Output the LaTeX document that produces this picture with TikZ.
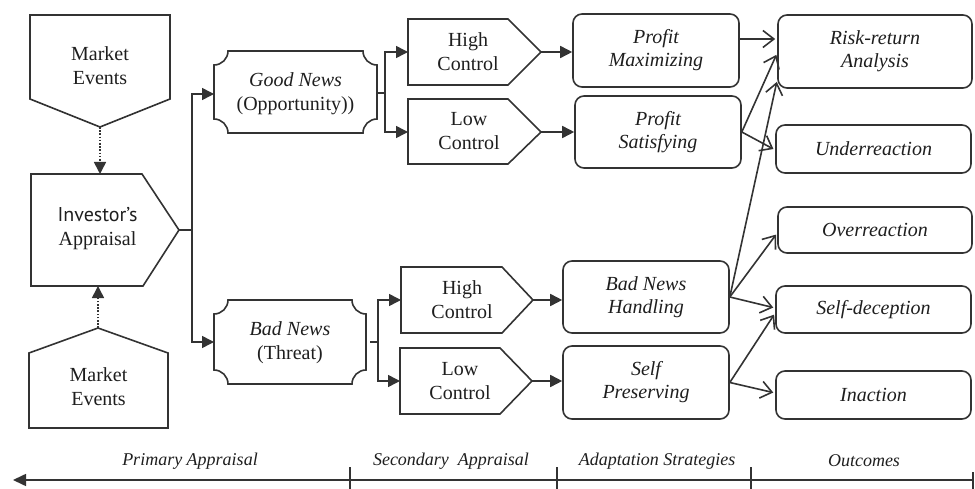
\documentclass[tikz,border=0pt]{standalone}
\usepackage{fontspec}
\setmainfont{Liberation Serif}
\newfontfamily\ptsans{PT Sans}
\usetikzlibrary{arrows.meta}
\definecolor{ink}{HTML}{333333}
\definecolor{tink}{HTML}{1E1E1E}
\begin{document}
\begin{tikzpicture}[x=1pt,y=-1pt,
  ln/.style={draw=ink, line width=1.6pt},
  txt/.style={text=tink, font=\fontsize{20}{24}\selectfont, align=center, inner sep=0pt},
  rbox/.style={ln, rounded corners=9pt, text=tink, font=\fontsize{20}{23}\selectfont\itshape, align=center, inner sep=0pt},
  fa/.style={ln, -{Triangle[length=12pt,width=12pt]}},
  ba/.style={ln, -{Straight Barb[length=11pt,width=17pt]}, shorten >=2pt},
  dots/.style={fa, dash pattern=on 1.6pt off 1.6pt},
  lab/.style={text=tink, font=\fontsize{18}{20}\selectfont\itshape, inner sep=0pt}
]
\useasboundingbox (0,0) rectangle (975,489);

% ---------- left column ----------
\node[txt] (me1) at (100,66) {Market\\Events};
\draw[ln] (30,15) -- (170,15) -- (170,99) -- (100,127) coordinate (me1tip) -- (30,99) -- cycle;

\node[txt] (inv) at (97.5,228.5) {{\ptsans Investor’s}\\Appraisal};
\draw[ln] (31,174) -- (142,174) -- (179,230) coordinate (invtip) -- (143,286) -- (31,286) -- cycle;
\coordinate (invtop) at (100,174);
\coordinate (invbot) at (98,286);

\node[txt] (me2) at (98.5,386.5) {Market\\Events};
\draw[ln] (29,353) -- (98,328) coordinate (me2tip) -- (168,353) -- (168,428) -- (29,428) -- cycle;

\draw[dots] (me1tip) -- (invtop);
\draw[dots] (me2tip) -- (invbot);

% ---------- primary appraisal ----------
\node[txt] (gn) at (295.5,93.5) {\textit{Good News}\\(Opportunity))};
\draw[ln] (228,51) -- (363,51) .. controls (363,58.7) and (369.3,65) .. (377,65)
  -- (377,119) .. controls (369.3,119) and (363,125.3) .. (363,133)
  -- (228,133) .. controls (228,125.3) and (221.7,119) .. (214,119)
  -- (214,65) .. controls (221.7,65) and (228,58.7) .. (228,51) -- cycle;
\coordinate (gnw) at (214,94);
\coordinate (gne) at (377,93);

\node[txt] (bn) at (290,342.5) {\textit{Bad News}\\(Threat)};
\draw[ln] (228,300) -- (352,300) .. controls (352,307.7) and (358.3,314) .. (366,314)
  -- (366,370) .. controls (358.3,370) and (352,376.3) .. (352,384)
  -- (228,384) .. controls (228,376.3) and (221.7,370) .. (214,370)
  -- (214,314) .. controls (221.7,314) and (228,307.7) .. (228,300) -- cycle;
\coordinate (bnw) at (214,342);
\coordinate (bne) at (370,342);

\coordinate (j1) at (192,230);
\draw[ln] (invtip) -- (j1);
\draw[fa] (j1) |- (gnw);
\draw[fa] (j1) |- (bnw);

% ---------- secondary appraisal ----------
\node[txt] (hc1) at (468,51.5) {High\\Control};
\draw[ln] (408,19) -- (508,19) -- (541,52) coordinate (hc1tip) -- (508,85) -- (408,85) -- cycle;
\coordinate (hc1w) at (408,52);
\node[txt] (lc1) at (469,131.5) {Low\\Control};
\draw[ln] (408,99) -- (508,99) -- (541,132) coordinate (lc1tip) -- (508,164) -- (408,164) -- cycle;
\coordinate (lc1w) at (408,132);

\node[txt] (hc2) at (462,300) {High\\Control};
\draw[ln] (401,267) -- (502,267) -- (533,300) coordinate (hc2tip) -- (502,333) -- (401,333) -- cycle;
\coordinate (hc2w) at (401,300);
\node[txt] (lc2) at (460,381.5) {Low\\Control};
\draw[ln] (400,348) -- (500,348) -- (532,381) coordinate (lc2tip) -- (500,414) -- (400,414) -- cycle;
\coordinate (lc2w) at (400,381);

\coordinate (j2) at (385,93);
\draw[ln] (gne) -- (j2);
\draw[fa] (j2) |- (hc1w);
\draw[fa] (j2) |- (lc1w);

\coordinate (j3) at (378,342);
\draw[ln] (bne) -- (j3);
\draw[fa] (j3) |- (hc2w);
\draw[fa] (j3) |- (lc2w);

% ---------- adaptation strategies ----------
\node[rbox, minimum width=166pt, minimum height=73pt] (pm) at (656,50.5) {Profit\\Maximizing};
\node[rbox, minimum width=166pt, minimum height=72pt] (ps) at (658,132) {Profit\\Satisfying};
\node[rbox, minimum width=166pt, minimum height=72pt] (bnh) at (646,297) {Bad News\\Handling};
\node[rbox, minimum width=166pt, minimum height=73pt] (sp) at (646,382.5) {Self\\Preserving};

\draw[fa] (hc1tip) -- (pm.west |- hc1tip);
\draw[fa] (lc1tip) -- (ps.west |- lc1tip);
\draw[fa] (hc2tip) -- (bnh.west |- hc2tip);
\draw[fa] (lc2tip) -- (sp.west |- lc2tip);

% ---------- outcomes ----------
\node[rbox, minimum width=194pt, minimum height=73pt] (rr) at (875,51.5) {Risk-return\\Analysis};
\node[rbox, minimum width=195pt, minimum height=48pt] (ur) at (873.5,149) {Underreaction};
\node[rbox, minimum width=194pt, minimum height=46pt] (ovr) at (875,230) {Overreaction};
\node[rbox, minimum width=195pt, minimum height=47pt] (sd) at (873.5,309.5) {Self-deception};
\node[rbox, minimum width=195pt, minimum height=48pt] (ina) at (873.5,395) {Inaction};

\draw[ba] (pm.east |- 0,39) -- (rr.west |- 0,39);
\draw[ba] (ps.east) -- (rr.west |- 0,53);
\draw[ba] (ps.east) -- (ur.west |- 0,150);
\draw[ba] (bnh.east) -- (rr.west |- 0,80);
\draw[ba] (bnh.east) -- (ovr.west |- 0,233);
\draw[ba] (bnh.east) -- (sd.west |- 0,308);
\draw[ba] (sp.east) -- (sd.west |- 0,313);
\draw[ba] (sp.east) -- (ina.west |- 0,393);

% ---------- axis ----------
\coordinate (axL) at (13,480);
\coordinate (axR) at (973,480);
\draw[ln, -{Triangle[length=13pt,width=12pt]}] (axR) -- (axL);
\draw[ln] (350,467) -- (350,489);
\draw[ln] (557,467) -- (557,489);
\draw[ln] (751,467) -- (751,489);
\draw[ln] (973,472) -- (973,489);

\node[lab] (l1) at (190,461) {Primary Appraisal};
\node[lab] (l2) at (451,461) {Secondary\ \ Appraisal};
\node[lab] (l3) at (657,461) {Adaptation Strategies};
\node[lab] (l4) at (864,461) {Outcomes};
\end{tikzpicture}
\end{document}
